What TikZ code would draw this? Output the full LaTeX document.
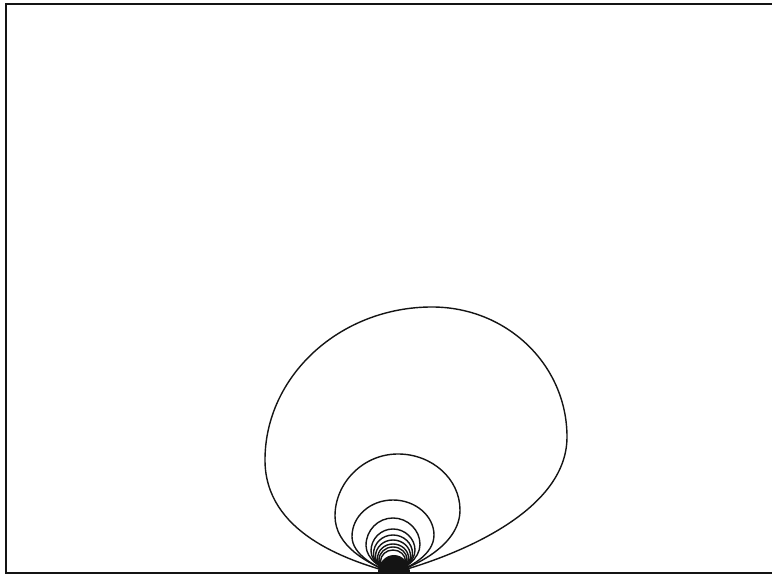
\documentclass[tikz,border=0pt]{standalone}
\usepackage{tikz}
\definecolor{C0}{RGB}{20, 20, 20}
\tikzset{
  frame/.style={draw=C0, line width=1.2pt},
  contour/.style={draw=C0, line width=1pt},
  core/.style={fill=C0},
}

\begin{document}
\begin{tikzpicture}[x=0.025cm, y=0.025cm]

  \useasboundingbox (0,0) rectangle (772,577);

  %% ── Frame (left, top, bottom) ─────────────────────────────────────────────

  \draw[frame] (772,573) -- (6,573) -- (6,4) -- (772,4);

  \coordinate (tip) at (393,4);

  %% ── Outer contour ─────────────────────────────────────────────────────────

  \draw[contour] (tip)
    .. controls (453,20) and (567,64) .. (567,140)
    .. controls (567,212) and (507,270) .. (432,270)
    .. controls (340,270) and (265,201) .. (265,117)
    .. controls (265,45) and (345,17) .. (tip);

  %% ── Second contour ────────────────────────────────────────────────────────

  \draw[contour] (tip)
    .. controls (418,12) and (460,33) .. (460,67)
    .. controls (460,98) and (432,123) .. (398,123)
    .. controls (363,123) and (335,94) .. (335,61)
    .. controls (335,31) and (368,13) .. (tip);

  %% ── Inner contours ────────────────────────────────────────────────────────

  \foreach \w/\h in {41/73, 27/55, 22/44, 19.5/38, 17.5/33, 15.5/29,
                     14/26, 12.5/23}
    \draw[contour, shift={(tip)}, xscale=\w, yscale=\h] (0,0)
      .. controls (0.4,0.07) and (1,0.25) .. (1,0.52)
      .. controls (1,0.78) and (0.55,1) .. (0,1)
      .. controls (-0.55,1) and (-1,0.78) .. (-1,0.5)
      .. controls (-1,0.25) and (-0.4,0.07) .. (0,0);

  % dense core at the contact point
  \fill[core] (378,4) arc [start angle=180, end angle=0,
                           x radius=16, y radius=18] -- cycle;

\end{tikzpicture}
\end{document}
